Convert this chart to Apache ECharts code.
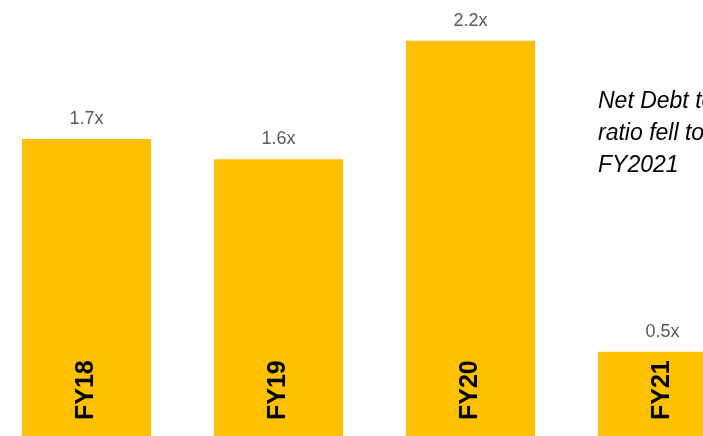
<!DOCTYPE html>
<html>
<head>
<meta charset="utf-8">
<style>
  html, body { margin: 0; padding: 0; background: #fff; }
  #chart { width: 703px; height: 436px; }
</style>
<script src="https://cdn.jsdelivr.net/npm/echarts@6/dist/echarts.min.js"></script>
</head>
<body>
<div id="chart"></div>
<script>
const categories = ['FY18', 'FY19', 'FY20', 'FY21']
// bar heights (net debt / EBITDA multiple)
const ratios = [1.66, 1.55, 2.19, 0.51]
const ratioLabels = ['1.7x', '1.6x', '2.2x', '0.5x']
const noteLines = ['Net Debt to EBITDA', 'ratio fell to 0.5x in', 'FY2021']

const gold = '#ffc000'
const labelGrey = '#595959'

const chart = echarts.init(document.getElementById('chart'), null, { renderer: 'canvas' })

chart.setOption({
  backgroundColor: '#ffffff',
  animation: false,
  // the plot runs past the right and bottom edges, as in the slide crop
  grid: {
    left: -9.5,
    top: 2,
    width: 768,
    height: 444,
    containLabel: false,
    outerBoundsMode: 'none',
  },
  xAxis: {
    type: 'category',
    data: categories,
    axisLine: { show: false },
    axisTick: { show: false },
    axisLabel: { show: false },
    splitLine: { show: false },
  },
  yAxis: {
    type: 'value',
    min: 0,
    max: 2.4,
    show: false,
    splitLine: { show: false },
  },
  series: [
    {
      name: 'Net debt / EBITDA',
      type: 'bar',
      data: ratios,
      barWidth: 129,
      itemStyle: { color: gold },
      label: {
        show: true,
        position: 'insideBottom',
        distance: 26,
        rotate: 90,
        align: 'left',
        verticalAlign: 'middle',
        formatter: (p) => categories[p.dataIndex],
        color: '#000000',
        fontFamily: '"Liberation Sans", Arial, sans-serif',
        fontWeight: 'bold',
        fontSize: 25,
      },
      z: 2,
    },
    {
      name: 'Value labels',
      type: 'bar',
      data: ratios,
      barWidth: 129,
      barGap: '-100%',
      silent: true,
      itemStyle: { color: 'transparent' },
      label: {
        show: true,
        position: 'top',
        distance: 11,
        formatter: (p) => ratioLabels[p.dataIndex],
        color: labelGrey,
        fontFamily: '"Liberation Sans", Arial, sans-serif',
        fontSize: 18,
      },
      z: 3,
    },
  ],
  graphic: [
    {
      type: 'text',
      left: 598,
      top: 86,
      style: {
        text: noteLines.join('\n'),
        fill: '#000000',
        font: 'italic 23px "Liberation Sans", Arial, sans-serif',
        lineHeight: 32,
      },
    },
  ],
})
</script>
</body>
</html>
